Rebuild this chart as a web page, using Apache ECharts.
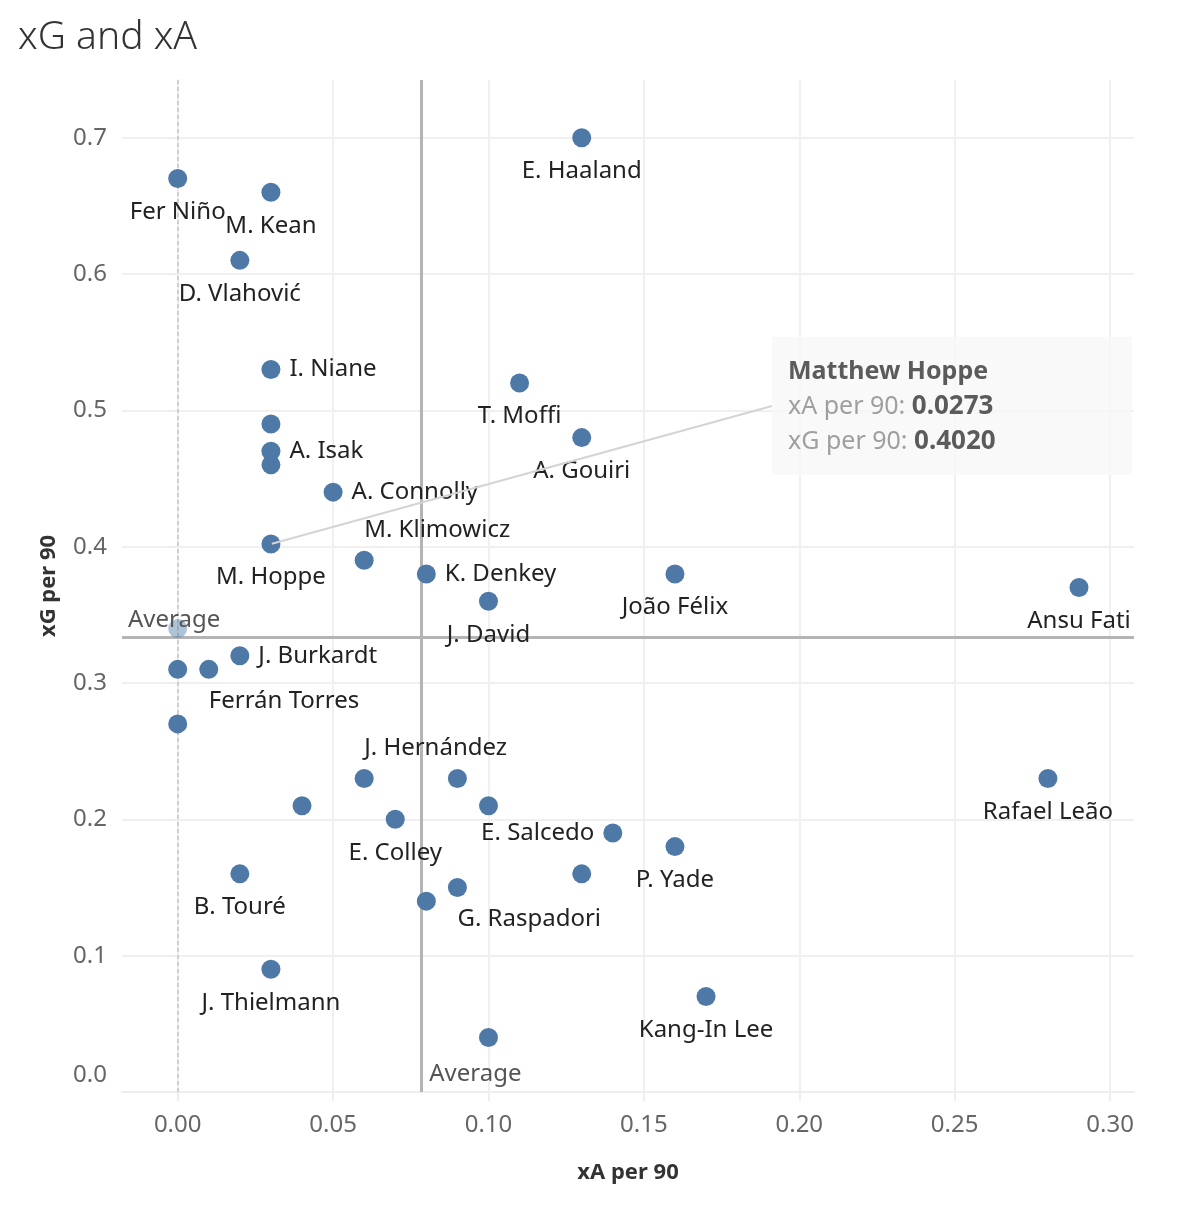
<!DOCTYPE html>
<html>
<head>
<meta charset="utf-8">
<script src="https://cdn.jsdelivr.net/npm/echarts@6/dist/echarts.min.js"></script>
<style>
html,body{margin:0;padding:0;background:#fff;}
#chart{width:1192px;height:1206px;}
</style>
</head>
<body>
<div id="chart"></div>
<script>
// ---- data ----
const players = ["E. Haaland","Fer Niño","M. Kean","D. Vlahović","I. Niane","T. Moffi","","A. Gouiri","A. Isak","","A. Connolly","M. Hoppe","M. Klimowicz","K. Denkey","João Félix","Ansu Fati","J. David","","J. Burkardt","","Ferrán Torres","","J. Hernández","","","","E. Colley","E. Salcedo","P. Yade","","Rafael Leão","B. Touré","G. Raspadori","","J. Thielmann","Kang-In Lee",""];
const xAper90 = [0.13,0.00,0.03,0.02,0.03,0.11,0.03,0.13,0.03,0.03,0.05,0.03,0.06,0.08,0.16,0.29,0.10,0.00,0.02,0.00,0.01,0.00,0.06,0.09,0.04,0.10,0.07,0.14,0.16,0.13,0.28,0.02,0.09,0.08,0.03,0.17,0.10];
const xGper90 = [0.70,0.67,0.66,0.61,0.53,0.52,0.49,0.48,0.47,0.46,0.44,0.402,0.39,0.38,0.38,0.37,0.36,0.34,0.32,0.31,0.31,0.27,0.23,0.23,0.21,0.21,0.20,0.19,0.18,0.16,0.23,0.16,0.15,0.14,0.09,0.07,0.04];
const xTicks = [0, 0.05, 0.10, 0.15, 0.20, 0.25, 0.30];
const yTicks = [0, 0.1, 0.2, 0.3, 0.4, 0.5, 0.6, 0.7];
// tooltip shown for the selected mark
const tooltipPlayer = "Matthew Hoppe";
const tooltipIndex = 11;
const tooltipValues = ["0.0273", "0.4020"];
const fadedIndex = [17];

// ---- layout / style config ----
const labelPlacement = {
  "I. Niane": "right", "A. Isak": "right", "A. Connolly": "right", "K. Denkey": "right", "J. Burkardt": "right",
  "M. Klimowicz": "aboveRight", "J. Hernández": "aboveRight",
  "Ferrán Torres": "belowRight", "G. Raspadori": "belowRight",
  "E. Salcedo": "left"
};
const placements = {
  bottom: {position: 'bottom', distance: 12},
  right: {position: 'right', distance: 9},
  left: {position: 'left', distance: 9},
  aboveRight: {position: [9.5, -20.5], align: 'left', verticalAlign: 'middle'},
  belowRight: {position: [9.5, 41.5], align: 'left', verticalAlign: 'middle'}
};
const FONT = '"Noto Sans", sans-serif';
const BLUE = '#4e79a7';

const mean = a => a.reduce((s, v) => s + v, 0) / a.length;
const avgX = mean(xAper90);
const avgY = mean(xGper90);

const pointData = players.map((name, i) => {
  const p = placements[labelPlacement[name] || 'bottom'];
  return {
    value: [xAper90[i], xGper90[i]],
    name: name,
    itemStyle: fadedIndex.includes(i) ? {opacity: 0.45} : undefined,
    label: Object.assign({show: name !== '', formatter: name}, p)
  };
});

const chart = echarts.init(document.getElementById('chart'), null, {renderer: 'canvas'});
chart.setOption({
  animation: false,
  backgroundColor: '#fff',
  title: {
    text: 'xG and xA', left: 13, top: 13,
    textStyle: {fontFamily: FONT, fontSize: 39, fontWeight: 300, color: '#333'}
  },
  grid: {left: 122, right: 58, top: 80, bottom: 114},
  xAxis: {
    type: 'value', min: -0.01792, max: 0.3077,
    name: 'xA per 90', nameLocation: 'middle', nameGap: 70,
    nameTextStyle: {fontFamily: FONT, fontSize: 22, fontWeight: 'bold', color: '#333'},
    axisLine: {show: true, lineStyle: {color: '#eeeeee', width: 2}},
    axisTick: {show: true, length: 9, customValues: xTicks, lineStyle: {color: '#eeeeee', width: 2}},
    axisLabel: {customValues: xTicks, margin: 21, fontFamily: FONT, fontSize: 24, color: '#666',
      formatter: v => v.toFixed(2)},
    splitLine: {show: true, lineStyle: {color: '#f0f0f0', width: 2}}
  },
  yAxis: {
    type: 'value', min: 0, max: 0.7423,
    name: 'xG per 90', nameLocation: 'middle', nameGap: 62,
    nameTextStyle: {fontFamily: FONT, fontSize: 22, fontWeight: 'bold', color: '#333'},
    axisLine: {show: true, lineStyle: {color: '#eeeeee', width: 2}},
    axisTick: {show: true, length: 10, customValues: yTicks, lineStyle: {color: '#eeeeee', width: 2}},
    axisLabel: {customValues: yTicks, margin: 15, fontFamily: FONT, fontSize: 24, color: '#666',
      formatter: v => v === 0 ? '{z|0.0}' : v.toFixed(1),
      rich: {z: {fontFamily: FONT, fontSize: 24, color: '#666', padding: [0, 0, 34, 0]}}},
    splitLine: {show: true, lineStyle: {color: '#f0f0f0', width: 2}}
  },
  series: [
    {
      type: 'scatter',
      symbolSize: 19,
      z: 3,
      itemStyle: {color: BLUE, opacity: 1},
      label: {fontFamily: FONT, fontSize: 24, color: '#222'},
      data: pointData,
      markLine: {
        silent: true, symbol: 'none', z: 2, precision: 6,
        label: {show: false},
        data: [
          {xAxis: 0, lineStyle: {color: '#c4c4c4', width: 1.5, type: [4, 3]}},
          {xAxis: avgX, lineStyle: {color: '#b4b4b4', width: 3, type: 'solid'}},
          {yAxis: avgY, lineStyle: {color: '#b4b4b4', width: 3, type: 'solid'}}
        ]
      },
      markPoint: {
        silent: true, symbol: 'circle', symbolSize: 0, precision: 6,
        label: {show: true, formatter: 'Average', fontFamily: FONT, fontSize: 24, color: '#555',
          align: 'left', verticalAlign: 'bottom'},
        data: [
          {coord: [avgX, 0], label: {position: [8, -6]}},
          {coord: [-0.01792, avgY], label: {position: [6, -5]}}
        ]
      }
    },
    {
      type: 'scatter',
      symbolSize: 2,
      z: 5,
      itemStyle: {color: 'rgba(0,0,0,0)'},
      data: [{
        value: [xAper90[tooltipIndex], xGper90[tooltipIndex]],
        label: {
          show: true, align: 'left', verticalAlign: 'top',
          formatter: '{t|' + tooltipPlayer + '}\n{k|xA per 90: }{v|' + tooltipValues[0] + '}\n{k|xG per 90: }{v|' + tooltipValues[1] + '}',
          backgroundColor: '#f8f8f8',
          padding: [17, 16, 16, 16],
          width: 328,
          rich: {
            t: {fontFamily: FONT, fontSize: 25, fontWeight: 'bold', color: '#333', lineHeight: 35},
            k: {fontFamily: FONT, fontSize: 25, color: '#888', lineHeight: 35},
            v: {fontFamily: FONT, fontSize: 26, fontWeight: 'bold', color: '#333', lineHeight: 35}
          }
        }
      }],
      labelLine: {show: true, length2: 0, lineStyle: {color: '#d4d4d4', width: 2}},
      labelLayout: {x: 772, y: 337}
    }
  ]
});
</script>
</body>
</html>
